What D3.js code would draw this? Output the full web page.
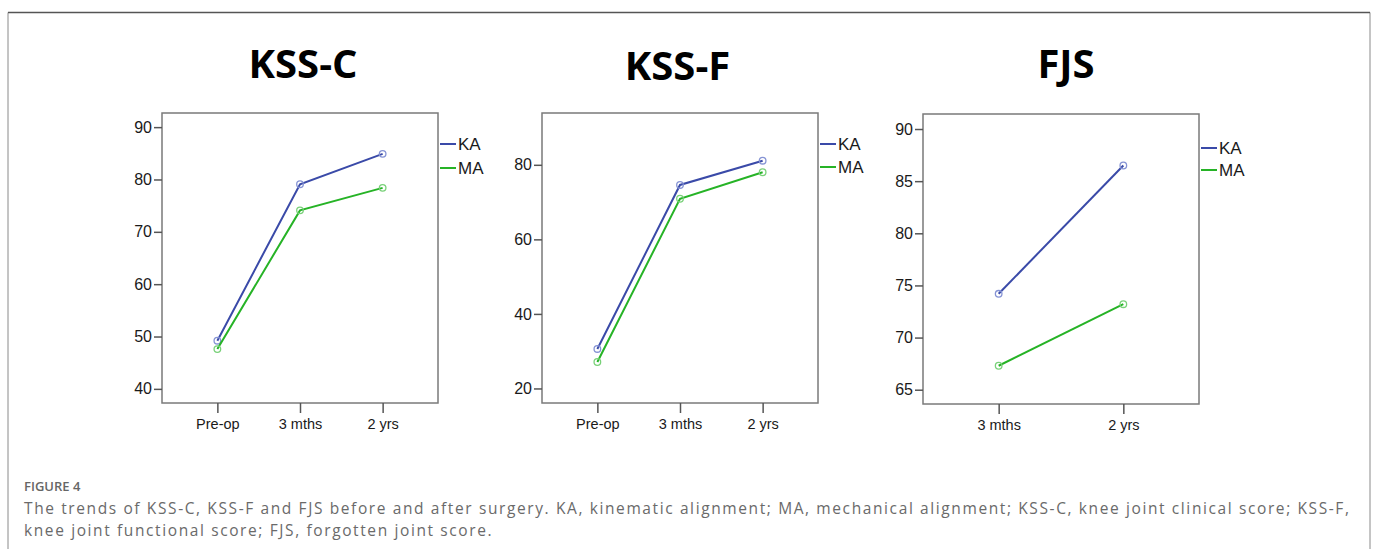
<!DOCTYPE html>
<html><head><meta charset="utf-8">
<script src="https://cdn.jsdelivr.net/npm/d3@7"></script>
<style>html,body{margin:0;padding:0;background:#fff;}svg{display:block;}</style>
</head><body>
<svg id="chart" width="1375" height="549"></svg>
<script>
// ---- data ----
const seriesNames = ["KA", "MA"];
const kssCCategories = ["Pre-op", "3 mths", "2 yrs"];
const kssC_KA = [49.2, 79.1, 84.9];
const kssC_MA = [47.6, 74.1, 78.4];
const kssCTicks = [40, 50, 60, 70, 80, 90];

const kssFCategories = ["Pre-op", "3 mths", "2 yrs"];
const kssF_KA = [30.6, 74.6, 81.1];
const kssF_MA = [27.1, 70.9, 78.0];
const kssFTicks = [20, 40, 60, 80];

const fjsCategories = ["3 mths", "2 yrs"];
const fjs_KA = [74.2, 86.5];
const fjs_MA = [67.3, 73.2];
const fjsTicks = [65, 70, 75, 80, 85, 90];

const captionLabel = "FIGURE 4";
const captionLines = [
  "The trends of KSS-C, KSS-F and FJS before and after surgery. KA, kinematic alignment; MA, mechanical alignment; KSS-C, knee joint clinical score; KSS-F,",
  "knee joint functional score; FJS, forgotten joint score."
];

// ---- layout / style ----
const lineColors = {KA: "#3a4aa8", MA: "#26b326"};
const markerColors = {KA: "#8593d4", MA: "#79d179"};

const panels = [
  {title: "KSS-C", cats: kssCCategories, KA: kssC_KA, MA: kssC_MA, ticks: kssCTicks,
   domain: [37.3, 92.7], box: {x0: 162, x1: 438, y0: 113, y1: 403}, pad: 0.67, titleX: 303, titleY: 78, legDy: [31, 55]},
  {title: "KSS-F", cats: kssFCategories, KA: kssF_KA, MA: kssF_MA, ticks: kssFTicks,
   domain: [16.1, 93.9], box: {x0: 542, x1: 818, y0: 113, y1: 403}, pad: 0.67, titleX: 677.5, titleY: 80, legDy: [31, 54]},
  {title: "FJS", cats: fjsCategories, KA: fjs_KA, MA: fjs_MA, ticks: fjsTicks,
   domain: [63.63, 91.44], box: {x0: 923, x1: 1199, y0: 114, y1: 404}, pad: 0.607, titleX: 1066, titleY: 78, legDy: [34, 56]}
];

const svg = d3.select("#chart");

// outer frame
svg.append("path").attr("d", "M8,549V12.5H1370V549")
  .attr("fill", "none").attr("stroke", "#8a8a8a").attr("stroke-width", 1);
svg.append("line").attr("x1", 8).attr("x2", 1370).attr("y1", 12.5).attr("y2", 12.5)
  .attr("stroke", "#555").attr("stroke-width", 1.5);

panels.forEach(p => {
  const g = svg.append("g");
  const x = d3.scalePoint().domain(p.cats).range([p.box.x0, p.box.x1]).padding(p.pad);
  const y = d3.scaleLinear().domain(p.domain).range([p.box.y1, p.box.y0]);

  // title
  g.append("text").attr("x", p.titleX).attr("y", p.titleY).attr("text-anchor", "middle")
    .attr("font-family", "'Open Sans', sans-serif").attr("font-weight", 700)
    .attr("font-size", 40).attr("fill", "#000").text(p.title);

  // frame box
  g.append("rect").attr("x", p.box.x0).attr("y", p.box.y0)
    .attr("width", p.box.x1 - p.box.x0).attr("height", p.box.y1 - p.box.y0)
    .attr("fill", "none").attr("stroke", "#7a7a7a").attr("stroke-width", 1.5);

  // y axis
  const yAxis = d3.axisLeft(y).tickValues(p.ticks).tickSize(8).tickPadding(2);
  const ya = g.append("g").attr("transform", `translate(${p.box.x0},0)`).call(yAxis);
  ya.select(".domain").remove();
  ya.selectAll(".tick line").attr("stroke", "#555").attr("stroke-width", 1.5);
  ya.selectAll(".tick text").attr("font-family", "'Liberation Sans', Arial, sans-serif")
    .attr("font-size", 16).attr("fill", "#1a1a1a");

  // x axis
  const xAxis = d3.axisBottom(x).tickSize(10).tickPadding(6);
  const xa = g.append("g").attr("transform", `translate(0,${p.box.y1})`).call(xAxis);
  xa.select(".domain").remove();
  xa.selectAll(".tick line").attr("stroke", "#555").attr("stroke-width", 1.5);
  xa.selectAll(".tick text").attr("font-family", "'Liberation Sans', Arial, sans-serif")
    .attr("font-size", 14.5).attr("fill", "#1a1a1a");

  // lines + markers
  seriesNames.forEach(s => {
    const pts = p.cats.map((c, i) => ({c, v: p[s][i]}));
    const line = d3.line().x(d => x(d.c)).y(d => y(d.v));
    g.append("path").datum(pts).attr("d", line).attr("fill", "none")
      .attr("stroke", lineColors[s]).attr("stroke-width", 2);
    g.selectAll(null).data(pts).enter().append("circle")
      .attr("cx", d => x(d.c)).attr("cy", d => y(d.v)).attr("r", 3.3)
      .attr("fill", "none").attr("stroke", markerColors[s]).attr("stroke-width", 1.3);
  });

  // legend
  seriesNames.forEach((s, i) => {
    const ly = p.box.y0 + p.legDy[i];
    g.append("line").attr("x1", p.box.x1 + 2).attr("x2", p.box.x1 + 18)
      .attr("y1", ly).attr("y2", ly).attr("stroke", lineColors[s]).attr("stroke-width", 2);
    g.append("text").attr("x", p.box.x1 + 20).attr("y", ly).attr("dy", "0.36em")
      .attr("font-family", "'Liberation Sans', Arial, sans-serif").attr("font-size", 17)
      .attr("fill", "#1a1a1a").text(s);
  });
});

// caption
svg.append("text").attr("x", 24).attr("y", 491)
  .attr("font-family", "'Open Sans', sans-serif").attr("font-weight", 600)
  .attr("font-size", 13).attr("fill", "#666").text(captionLabel);

const capFont = 15.5;
const t1 = svg.append("text").attr("x", 24).attr("y", 514)
  .attr("font-family", "'Open Sans', sans-serif").attr("font-size", capFont)
  .attr("fill", "#6a6a6a").text(captionLines[0]);
const len = t1.node().getComputedTextLength();
const ls = (1325 - len) / (captionLines[0].length - 1);
t1.attr("letter-spacing", ls);
svg.append("text").attr("x", 24).attr("y", 536)
  .attr("font-family", "'Open Sans', sans-serif").attr("font-size", capFont)
  .attr("letter-spacing", ls)
  .attr("fill", "#6a6a6a").text(captionLines[1]);
</script>
</body></html>
